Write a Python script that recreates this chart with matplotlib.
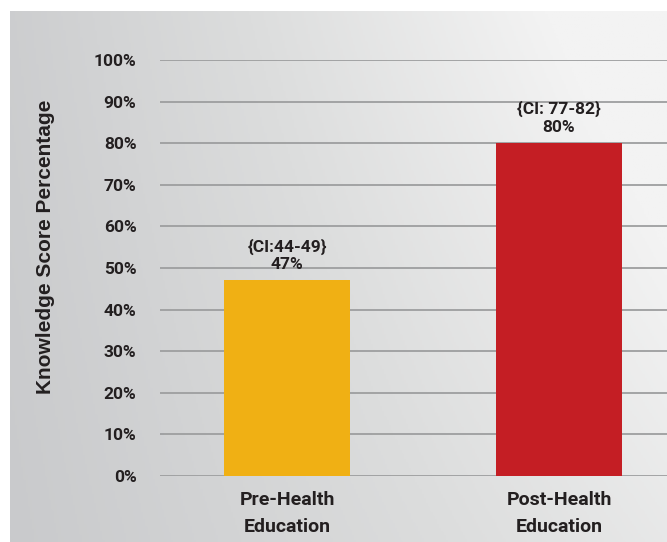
import numpy as np
import matplotlib.pyplot as plt
from matplotlib.colors import LinearSegmentedColormap

categories = ["Pre-Health\nEducation", "Post-Health\nEducation"]
scores = [47, 80]
ci_labels = ["{CI:44-49}", "{CI: 77-82}"]
bar_colors = ["#f0b014", "#c41e24"]
yticks = list(range(0, 101, 10))

text_color = "#231f20"

fig = plt.figure(figsize=(6.67, 5.42), dpi=100)
fig.patch.set_facecolor("white")

# gray gradient panel behind the chart
bg = fig.add_axes([10 / 667, 0, 657 / 667, 531 / 542], zorder=0)
xx, yy = np.meshgrid(np.linspace(0, 1, 300), np.linspace(0, 1, 300))
t = np.clip(0.75 * xx + 0.35 * (1 - yy) * xx + 0.1 * (1 - yy), 0, 1)
cmap = LinearSegmentedColormap.from_list("bg", ["#c9cacc", "#dcdddd", "#f3f3f3"])
bg.imshow(t, cmap=cmap, aspect="auto", extent=[0, 1, 0, 1], origin="upper")
bg.axis("off")

# plot area: x 160..667, y 60..476 (0..100%)
ax = fig.add_axes([160 / 667, (542 - 476) / 542, 507 / 667, 416 / 542], zorder=1)
ax.patch.set_alpha(0)

x = np.arange(len(categories))
ax.set_yticks(yticks)
ax.set_ylim(0, 100)
ax.set_xlim(-0.467, 1.397)
for v in yticks:
    ax.axhline(v, color="#9d9e9f", lw=1.3, zorder=1)
ax.bar(x, scores, width=0.46, color=bar_colors, zorder=2)

for xi, s, ci in zip(x, scores, ci_labels):
    ax.text(xi, s + 2.0, f"{ci}\n{s}%", ha="center", va="bottom", fontsize=12.5,
            fontweight="bold", family="Roboto", color=text_color, linespacing=1.2)

ax.set_yticklabels([f"{v}%" for v in yticks], fontsize=12.5, fontweight="bold",
                   family="Roboto", color=text_color)
ax.set_xticks(x)
ax.set_xticklabels(categories, fontsize=14, fontweight="bold", family="Roboto",
                   color=text_color, linespacing=1.65)
ax.tick_params(axis="y", length=0, pad=17)
ax.tick_params(axis="x", length=0, pad=11)
for sp in ax.spines.values():
    sp.set_visible(False)

fig.text(46 / 667, 1 - 247 / 542, "Knowledge Score Percentage", rotation=90,
         ha="center", va="center", fontsize=15, fontweight="bold",
         family="Liberation Sans", color=text_color)

fig.savefig("out.png", dpi=100)
